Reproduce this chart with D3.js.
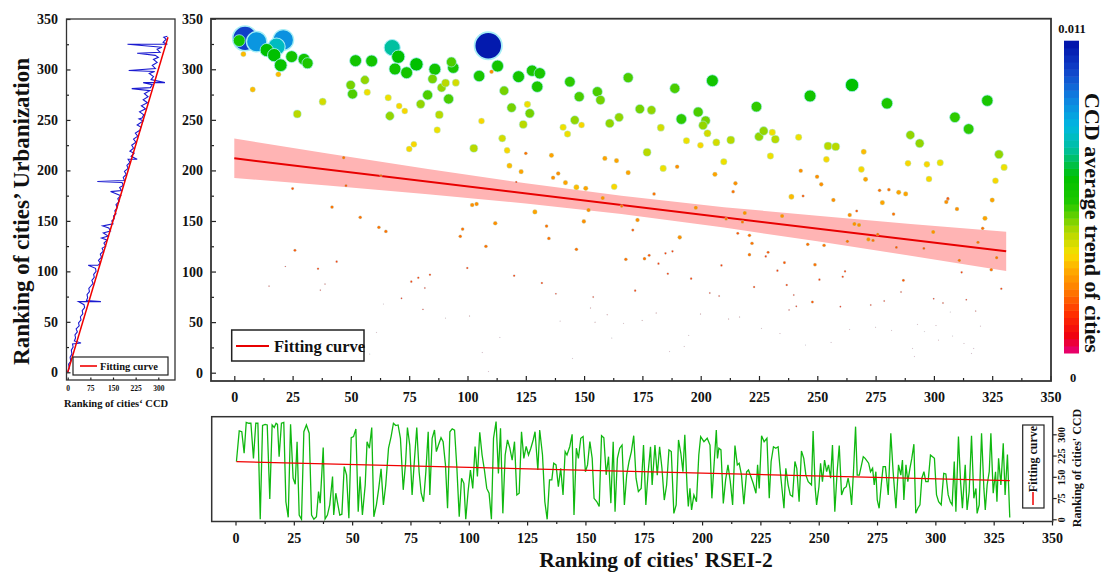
<!DOCTYPE html>
<html>
<head>
<meta charset="utf-8">
<script src="https://cdn.jsdelivr.net/npm/d3@7"></script>
<style>
  body { margin: 0; background: #fff; }
  text { font-family: "Liberation Serif", "Times New Roman", serif; font-weight: bold; fill: #111; }
</style>
</head>
<body>
<div id="chart"></div>
<script>
(function() {
  'use strict';

  // main scatter: [RSEI-2 rank, Urbanization rank, CCD average trend (x1e-3)]
  var cityPoints = [
    [4.6,330.6,10.0],[9.6,327.3,8.6],[21,329,8.7],[18.1,322.3,7.6],[2.1,328.3,5.7],[13.9,319,6.2],
    [17.1,314,6.2],[19.9,304,6.0],[24.6,312.5,5.7],[29.9,309.8,5.7],[31.4,306,5.4],[3.9,315,3.1],
    [18.9,295,3.1],[7.9,280,3.1],[37.9,268,3.9],[27,255.8,4.2],[52,308.5,5.7],[58.9,308.2,5.7],
    [49.9,284.4,4.7],[50.7,275.5,5.0],[56,289.4,4.5],[57,277.2,3.6],[67.7,321.4,7.2],[70.3,312.4,6.2],
    [68.9,300.3,5.7],[73.9,296.6,5.7],[78.1,304.9,6.2],[66,271.9,3.6],[66.7,253.8,4.5],[70.7,263.7,3.4],
    [73.1,258.7,3.4],[79.9,265.6,4.5],[82.9,274.6,5.0],[86,300,5.7],[85,290.4,4.7],[88.9,281.8,4.5],
    [90.6,286.4,4.2],[87.9,255,4.2],[91.9,270.6,5.0],[93.1,307.2,5.0],[93.9,301.6,5.5],[95,286.7,3.9],
    [87,240,3.6],[75,221.2,3.4],[77,225.8,3.4],[46.9,212.6,2.1],[47.9,184.9,1.8],[25,182,1.8],
    [62.9,194.8,1.8],[108.9,323.3,10.8],[112.9,303.2,5.7],[105,293.3,5.5],[110.3,297.6,2.5],[106,248.8,3.4],
    [102.7,221.8,4.2],[114.9,231.7,3.9],[117,219.8,3.4],[118,204.7,3.1],[123,198.7,2.8],[120.9,188.5,1.5],
    [125,216.9,2.1],[115.7,278.8,4.7],[118.9,262,4.7],[123.9,245.5,4.2],[126.7,256.4,4.7],[125.7,265.3,3.6],
    [121.9,292.7,5.7],[127.7,298.6,5.5],[131,296,5.5],[129.9,282.8,5.5],[143.9,287.7,5.2],[147.9,272.9,5.0],
    [146,249.8,4.5],[141,242.6,3.6],[142.9,236,3.6],[148.9,244.9,3.4],[136,214.9,2.8],[138.9,197,2.5],
    [136.7,192.8,2.5],[142,187.9,2.8],[155.7,277.8,5.0],[157,269.6,4.7],[161,246.5,4.5],[165,252.5,4.5],
    [168.9,291.7,5.0],[158.9,211.9,2.8],[163.9,209.6,2.8],[162.9,183.9,3.4],[150.7,182.3,2.8],[168.9,197.8,2.8],
    [158,172.7,2.5],[188.9,281.1,5.0],[205,288.7,5.7],[173.9,260.7,4.7],[178.9,259.7,4.5],[182.9,242.3,3.9],
    [191.7,250.8,5.2],[198.9,257.7,5.0],[202.1,249.2,4.7],[201,244.5,4.5],[202.9,236.7,3.9],[193.9,229.4,3.6],
    [199.9,224.8,3.4],[206.7,227.7,3.9],[212.9,230,4.2],[177,217.9,4.2],[183.9,202,3.6],[189.9,203.7,2.5],
    [209.9,208.6,3.6],[206.1,196.1,2.8],[214.9,187.2,2.5],[213.9,179,2.1],[180,176.7,2.1],[223.9,263,5.2],
    [225,233.4,4.5],[227,239,4.5],[230.7,237.6,3.6],[232,230.7,4.2],[229.9,214.2,3.6],[242,232.7,3.6],
    [246.9,273.6,5.7],[242.9,199.7,2.5],[243.9,174.7,1.8],[238.9,174,3.1],[249.9,193.8,2.5],[251.7,186.2,2.5],
    [254.6,224.1,4.2],[257.9,223.5,4.2],[253.9,210.9,3.4],[264.9,284.4,6.2],[269.9,218.5,3.1],[268.9,201,3.4],
    [270.7,191.2,2.8],[279.9,266.3,5.5],[276.7,180.3,2.1],[280.7,181,2.1],[284.9,178.3,2.8],[287.9,176.7,2.8],
    [289.9,235,4.5],[293.9,226.8,4.5],[288.9,207,3.4],[297,206,3.4],[302.7,207.6,3.6],[297.9,191.5,3.4],
    [306,171.4,1.8],[309,252.5,5.2],[314.9,241,5.2],[322.9,269,5.5],[327.9,215.9,4.5],[330.1,203,3.6],
    [326.4,189.8,3.4],[325,170.7,2.8],
    [26,121,1.8],[14.9,85.7,1.0],[21.9,105,1.0],[41.9,163.8,2.1],[43.9,109.8,1.5],[35.9,102.8,1.5],
    [38.9,87.7,1.0],[36.9,81.7,1.0],[54,153.6,2.1],[62,143.7,2.1],[65,139.7,2.1],[63.9,67.9,0.6],
    [60.9,39.9,0.6],[71.7,73.5,1.2],[75.9,90,1.5],[78.9,93.9,1.5],[81.7,83.7,1.2],[83.9,96.9,1.5],
    [80.9,62.6,1.0],[90.6,54,0.6],[96.9,134.8,2.1],[97.9,142,2.1],[99.9,103.5,1.5],[100.9,56,0.8],
    [102,165.8,2.5],[103.9,166.8,2.5],[107.9,124.9,2.1],[111.9,147.7,2.5],[106.3,20,0.5],[120,95.9,1.5],
    [131.9,88.7,1.5],[128.9,158.9,2.8],[133.9,145,2.1],[134.9,132.8,2.1],[137.9,78.1,1.2],[139.7,51,0.6],
    [146.7,122,2.1],[149.9,149.6,2.5],[151.9,160.8,2.5],[152.7,64,0.8],[153.9,74.8,1.2],[154.7,50,0.8],
    [159.9,57.3,0.8],[161.9,34.3,0.6],[146.7,183.3,3.1],[166.1,164.8,2.1],[167.9,112.1,2.1],[166.9,48.8,0.6],
    [32.9,38.2,0.5],[52.9,33,0.5],[58.1,18.5,0.5],[113.9,35,0.5],[145,14.2,0.5],[109,1,0.5],
    [172.9,151,2.5],[170.9,141,1.8],[175.9,112.7,2.1],[177.9,116,1.8],[181.9,107.8,1.5],[184.9,118,1.5],
    [187.9,120,1.5],[185.9,97.9,1.5],[191,133.8,2.5],[171.9,81.1,1.5],[180.9,59,0.8],[174.9,51.7,0.8],
    [195.9,93,1.5],[199.9,58,0.8],[194.9,37,0.6],[192.9,26,0.6],[186.7,20.8,0.5],[197.9,163.1,2.5],
    [203.9,78.8,1.2],[207.9,75.8,1.2],[208.9,106.1,1.5],[210.9,152,2.1],[212,53.1,0.8],[216.7,55,0.8],
    [215.9,137.8,1.8],[217.9,149,2.1],[218.9,157.9,2.5],[220.9,135.8,2.1],[222,127.9,2.1],[220.9,116.7,2.1],
    [222.9,84.7,1.5],[226,43.8,0.6],[227.9,115,1.5],[228.9,119,1.8],[232.9,100.9,1.5],[234.9,154.9,2.5],
    [235.9,108.8,1.8],[234,38.6,0.6],[236.9,86.7,1.5],[239.9,76.8,1.2],[237.9,62,1.0],[241,65.6,1.2],
    [244.9,27.4,0.5],[245.9,126.9,2.1],[247.9,69.9,1.8],[249,106.8,2.1],[250.9,92,1.5],[252.9,125.9,2.1],
    [255.9,30,0.5],[256.9,170.7,2.5],[259.9,65.3,1.2],[260.9,94.9,1.5],[261.9,100.2,1.5],[262.9,129.9,2.1],
    [263.9,42.8,0.6],[263.9,155.9,2.5],[266.9,159.9,1.8],[265.9,147,2.5],[267.9,146,2.5],[271.9,131.8,2.5],
    [273.9,130.8,2.1],[275.9,136.8,2.1],[272.9,66.9,1.2],[275,45,0.6],[277.9,168.1,2.8],[278.7,70.9,1.2],
    [281.9,41.9,0.6],[282.7,156.9,2.1],[283.9,123.9,1.8],[285.9,79.8,1.2],[286.9,91.3,1.8],[290.9,24,0.5],
    [291.6,15.8,0.5],[292.9,47.8,0.6],[295.9,40.5,0.6],[295.7,122.9,1.8],[299.7,139.1,2.5],[299.9,73.2,1.2],
    [300.9,46.5,0.6],[302,32.3,0.6],[303.9,68.9,1.2],[305.3,168.8,2.5],[306,172.4,1.8],[307,60,0.6],
    [308,36.3,0.6],[309.9,161.8,2.5],[310.9,111.1,2.1],[311.9,99.2,1.5],[312.9,29,0.6],[313.9,72.2,1.2],
    [316.1,19.1,0.5],[317.1,24,0.5],[317.9,61,1.0],[319.9,46.1,0.6],[318.9,128.9,2.1],[320.9,142.7,2.1],
    [321.9,152.6,2.8],[324.6,101.8,2.1],[326.9,113.7,2.1],[328.9,83,1.5]
  ];

  // main fitting curve and its confidence band
  var fitX = [0, 331];
  var fitY = [212, 120];
  var bandX = [0, 40, 83, 125, 166, 210, 250, 290, 331];
  var bandLo = [192.5, 185, 176.4, 167.3, 156.9, 143.5, 129.9, 115.7, 100.6];
  var bandHi = [231.5, 216.8, 201.4, 187.3, 174.9, 163.7, 155.1, 147.1, 139.4];

  // left panel: [CCD rank, Urbanization rank]
  var urbanVsCcd = [
    [0,0],[5,4],[3,8],[10,11],[8,15],[14,18],[12,22],[18,25],[16,28],[44,29],[22,31],[26,34],[24,37],
    [32,40],[28,43],[38,46],[36,49],[44,52],[42,55],[50,58],[48,61],[56,64],[54,67],[36,70],[110,70],
    [62,71],[66,74],[64,77],[72,80],[70,83],[78,86],[84,88],[80,91],[88,94],[86,97],[94,100],[92,103],
    [68,106],[100,106],[108,108],[102,111],[112,114],[108,117],[118,120],[114,123],[126,125],[120,128],
    [130,131],[112,133],[134,135],[118,138],[142,140],[136,143],[116,145],[150,147],[146,150],[154,152],
    [152,155],[160,157],[156,160],[164,163],[160,166],[170,169],[166,172],[176,175],[142,179],[178,180],
    [172,183],[184,185],[180,188],[98,189],[188,190],[184,193],[194,196],[188,199],[200,202],[196,205],
    [206,208],[200,211],[230,211],[210,214],[220,217],[206,219],[218,222],[212,225],[226,228],[218,231],
    [232,234],[224,237],[240,240],[242,243],[230,245],[250,249],[236,251],[246,252],[252,255],[238,258],
    [258,261],[244,264],[264,267],[250,270],[266,273],[254,276],[272,279],[212,281],[274,282],[280,285],
    [250,287],[322,287],[276,290],[284,293],[270,296],[288,298],[202,299],[290,301],[280,304],[296,307],
    [284,310],[300,312],[290,314],[230,316],[306,317],[296,320],[312,322],[198,325],[330,325],[316,327],
    [326,330],[318,332],[330,333]
  ];
  var leftFitX = [0, 332];
  var leftFitY = [0, 332];

  // bottom panel: [RSEI-2 rank, CCD rank]
  var ccdVsRsei = [
    [0.4,204],[1.6,312],[2.7,309],[3.7,233],[4.6,342],[5.7,339],[6.6,339],[7.7,215],[8.7,339],[9.6,339],
    [10.6,0],[11.6,331],[12.7,335],[13.6,333],[14.7,72],[15.7,333],[16.6,324],[17.4,339],[18,335],[18.7,221],
    [19.7,339],[20.7,342],[21.6,62],[22.6,7],[23.6,335],[24.7,145],[25.6,124],[26.4,274],[27.3,15],[28.3,0],
    [29.3,309],[30.4,333],[31.6,304],[32.6,15],[33.6,0],[34.7,9],[35.6,98],[36.3,57],[37.6,253],[38.4,1],
    [39.4,15],[40.4,51],[41.6,151],[42.1,15],[43,92],[43.9,51],[44.7,15],[45.6,18],[46.6,186],[47.6,157],
    [48.6,4],[49.6,288],[50.6,292],[51.6,319],[52.6,27],[53.4,151],[54.4,15],[55.6,121],[56.4,274],[57.4,251],
    [58.4,324],[59.3,9],[60.4,51],[61.4,109],[62.4,178],[63.4,51],[64.4,121],[65.6,251],[66.7,292],[67.7,339],
    [68.7,331],[69.7,333],[70.7,286],[71.9,104],[72.9,198],[73.7,324],[74.7,262],[75.7,86],[76.7,209],[77.7,324],
    [78.7,168],[79.6,92],[80.6,62],[81.6,168],[82.6,309],[83.3,86],[84.3,286],[85.3,315],[86.1,239],[87,262],
    [88.1,288],[89,274],[90,192],[90.9,39],[91.9,309],[92.9,319],[93.9,315],[94.9,180],[95.9,9],[96.9,145],
    [97.9,127],[98.7,0],[99.7,98],[100.7,174],[101.7,109],[102.7,257],[103.7,151],[104.7,307],[105.7,227],[106.7,174],
    [107.7,109],[108.7,92],[109.7,0],[110.6,286],[111.7,345],[112.7,162],[113.6,321],[114.6,21],[115.6,227],[116.6,280],
    [117.6,251],[118.6,209],[119.6,274],[120.6,86],[121.6,92],[122.6,309],[123.6,215],[124.6,257],[125.6,227],[126.6,251],
    [127.6,280],[128.4,309],[129.6,174],[130.4,315],[131.6,227],[132.6,62],[133.6,0],[134.6,139],[135.6,139],[136.4,198],
    [137.4,192],[138.4,115],[139.4,180],[140.4,86],[141.3,239],[142.1,227],[143.3,257],[144.3,300],[145.1,15],[146.1,251],
    [147,215],[148,286],[149,292],[150,168],[150.9,192],[151.9,274],[152.9,215],[153.7,74],[154.9,62],[155.9,45],
    [156.9,295],[157.9,288],[158.9,157],[159.9,221],[160.9,57],[161.9,274],[162.7,27],[163.7,215],[164.7,251],[165.7,262],
    [166.7,51],[167.7,157],[168.7,204],[169.7,239],[170.7,295],[171.7,145],[172.7,98],
    [173.9,109],[174.9,262],[175.9,51],[176.9,168],[177.9,256],[178.6,121],[179.8,262],[180.8,156],[181.8,256],[182.8,180],
    [183.8,68],[184.8,121],[185.8,245],[186.8,239],[187.9,21],[188.9,51],[189.9,280],[190.9,233],[191.8,168],[192.6,298],
    [193.6,109],[194.1,45],[194.8,109],[195.5,33],[196.5,86],[197.6,62],[198.6,227],[199.4,292],[200.8,274],[202.2,286],
    [203.4,262],[204.2,74],[206.1,315],[206.6,215],[207.2,251],[208.1,245],[209.1,56],[210.1,139],[211.1,192],[212.1,133],
    [213.1,51],[214.1,260],[215.1,192],[215.9,198],[216.9,156],[217.9,53],[219.1,168],[219.9,174],[220.9,151],[221.9,127],
    [223.1,92],[223.8,192],[224.5,109],[225.5,295],[226.6,274],[227.8,286],[228.8,74],[229.6,204],[230.6,256],[231.6,251],
    [232.6,256],[233.8,145],[235.1,39],[235.9,180],[236.9,121],[237.8,86],[238.8,80],[239.8,204],[240.6,180],[241.6,62],
    [242.6,241],[243.6,215],[244.5,156],[245.5,133],[246.9,121],[247.6,312],[248.5,109],[249.1,51],[250.1,115],[250.8,198],
    [251.6,133],[252.5,209],[253.4,168],[254.2,192],[255.1,145],[255.9,262],[256.9,27],[257.9,168],[258.8,260],[259.8,86],
    [260.8,109],[261.8,115],[262.6,145],[263.4,109],[264.1,51],[264.9,168],[265.8,327],[266.5,156],[267.4,156],[268.2,186],
    [269.1,221],[269.9,215],[271.4,198],[272.2,168],[273.1,180],[273.8,121],[274.5,168],[275.1,68],[275.9,39],[276.8,121],
    [277.6,186],[278.6,186],[279.8,86],[280.9,304],[281.9,168],[283.1,39],[284.2,192],[285.2,156],[285.9,209],[286.5,68],
    [287.4,192],[288.2,133],[289.1,180],[289.9,215],[290.8,265],[291.6,21],[292.5,39],[293.4,51],[294.2,145],[295.1,168],
    [295.9,133],[296.9,133],[297.9,227],[298.8,221],[299.6,215],[300.5,86],[301.4,62],[302.5,51],[303.6,162],[304.5,160],
    [305.5,86],[306.4,62],[307.2,51],[308.1,204],[308.8,27],[309.9,292],[310.8,133],[311.6,39],[312.8,192],[313.6,33],
    [314.5,98],[315.5,295],[316.5,74],[317.4,109],[317.9,21],[318.8,51],[319.8,304],[320.8,109],[321.4,33],[322.2,121],
    [323.1,168],[323.8,304],[324.8,92],[325.8,168],[326.4,62],[327.1,215],[328.1,121],[329.1,268],[329.9,86],[330.9,229],
    [331.9,6]
  ];
  var botFitX = [0.4, 331.9];
  var botFitY = [203.5, 136.5];

  // colour bar
  var trendMax = 11;   // 0.011
  var trendStops = [0, 0.6, 1.4, 2.2, 3.0, 3.5, 4.3, 5.3, 6.2, 7.2, 8.0, 9.0, 10.0, 11];
  var trendColors = ['#e6007e', '#f00010', '#ff3000', '#ff7a00', '#ffb000', '#f8e000', '#b0d800',
    '#20c800', '#00c000', '#00c0a0', '#00b8e0', '#1080e0', '#1040c8', '#0010a8'];

  var mainTicks = d3.range(0, 351, 25);
  var mainMinorX = d3.range(12.5, 350, 25);
  var mainYTicks = d3.range(0, 351, 50);
  var mainMinorY = d3.range(25, 350, 50);
  var leftXTicks = [0, 75, 150, 225, 300];
  var botYTicks = [0, 75, 150, 225, 300];

  var svgW = 1105, svgH = 573;

  var svg = d3.select('#chart').append('svg')
    .attr('width', svgW)
    .attr('height', svgH);

  var color = d3.scaleLinear().domain(trendStops).range(trendColors);
  var radius = d3.scalePow().exponent(1.3).domain([0, trendMax]).range([0, 14]);

  function styleAxis(g, size) {
    g.select('.domain').remove();
    g.selectAll('line').attr('stroke', '#222').attr('stroke-width', 1.2);
    g.selectAll('text').style('font-size', size + 'px');
  }

  // ---------------- main chart ----------------
  var x = d3.scaleLinear().domain([0, 350]).range([234.3, 1050.5]);
  var y = d3.scaleLinear().domain([0, 350]).range([372.7, 18.7]);

  var band = bandX.map(function(d, i) { return [d, bandLo[i], bandHi[i]]; });
  svg.append('path')
    .attr('d', d3.area()
      .x(function(d) { return x(d[0]); })
      .y0(function(d) { return y(d[1]); })
      .y1(function(d) { return y(d[2]); })(band))
    .attr('fill', '#ffb4b4');

  svg.append('line')
    .attr('x1', x(fitX[0])).attr('y1', y(fitY[0]))
    .attr('x2', x(fitX[1])).attr('y2', y(fitY[1]))
    .attr('stroke', '#e80000')
    .attr('stroke-width', 2);

  var sorted = cityPoints.slice().sort(function(a, b) { return b[2] - a[2]; });
  svg.append('g').selectAll('circle')
    .data(sorted)
    .enter()
    .append('circle')
    .attr('cx', function(d) { return x(d[0]); })
    .attr('cy', function(d) { return y(d[1]); })
    .attr('r', function(d) { return Math.max(0.35, radius(d[2])); })
    .attr('fill', function(d) { return color(d[2]); })
    .attr('stroke', '#a6eef6')
    .attr('stroke-width', function(d) { return Math.max(0.3, radius(d[2]) * 0.13); });

  svg.append('g')
    .attr('transform', 'translate(211,0)')
    .call(d3.axisLeft(y).tickValues(mainYTicks).tickSize(-5).tickPadding(8))
    .call(styleAxis, 14);
  svg.append('g')
    .attr('transform', 'translate(211,0)')
    .call(d3.axisLeft(y).tickValues(mainMinorY).tickSize(-3).tickFormat(''))
    .call(styleAxis, 14);
  svg.append('g')
    .attr('transform', 'translate(0,381)')
    .call(d3.axisBottom(x).tickValues(mainTicks).tickSize(-5).tickPadding(11))
    .call(styleAxis, 14);
  svg.append('g')
    .attr('transform', 'translate(0,381)')
    .call(d3.axisBottom(x).tickValues(mainMinorX).tickSize(-3).tickFormat(''))
    .call(styleAxis, 14);

  svg.append('rect')
    .attr('x', 211).attr('y', 18.7)
    .attr('width', 1051 - 211).attr('height', 381 - 18.7)
    .attr('fill', 'none').attr('stroke', '#333').attr('stroke-width', 1.8);

  var lg = svg.append('g');
  lg.append('rect').attr('x', 231.7).attr('y', 330).attr('width', 132.3).attr('height', 31)
    .attr('fill', '#fff').attr('stroke', '#222').attr('stroke-width', 1.5);
  lg.append('line').attr('x1', 236).attr('x2', 269).attr('y1', 346).attr('y2', 346)
    .attr('stroke', '#e80000').attr('stroke-width', 2.2);
  lg.append('text').attr('x', 274).attr('y', 352).style('font-size', '16.5px').text('Fitting curve');

  svg.append('text')
    .attr('transform', 'translate(29,211.5) rotate(-90)')
    .attr('text-anchor', 'middle')
    .style('font-size', '23px')
    .text('Ranking of cities\u2019 Urbanization');

  svg.append('text')
    .attr('x', 656).attr('y', 566.5)
    .attr('text-anchor', 'middle')
    .style('font-size', '21.5px')
    .text('Ranking of cities\' RSEI-2');

  // ---------------- colour bar ----------------
  var cb = d3.scaleLinear().domain([0, trendMax]).range([353, 40.7]);
  var steps = d3.range(44);
  svg.append('g').selectAll('rect')
    .data(steps)
    .enter()
    .append('rect')
    .attr('x', 1064)
    .attr('width', 15)
    .attr('y', function(d) { return cb((d + 1) / 44 * trendMax); })
    .attr('height', function(d) { return cb(d / 44 * trendMax) - cb((d + 1) / 44 * trendMax) + 0.5; })
    .attr('fill', function(d) { return color((d + 0.5) / 44 * trendMax); });

  svg.append('text').attr('x', 1072).attr('y', 33).attr('text-anchor', 'middle')
    .style('font-size', '12.5px').text('0.011');
  svg.append('text').attr('x', 1073).attr('y', 382).attr('text-anchor', 'middle')
    .style('font-size', '12.5px').text('0');
  svg.append('text')
    .attr('transform', 'translate(1085,223) rotate(90)')
    .attr('text-anchor', 'middle')
    .style('font-size', '22px')
    .text('CCD average trend of cities');

  // ---------------- left panel ----------------
  var lx = d3.scaleLinear().domain([0, 300]).range([67.7, 158.3]);
  var ly = d3.scaleLinear().domain([0, 350]).range([372.3, 19]);

  svg.append('path')
    .datum(urbanVsCcd)
    .attr('d', d3.line()
      .x(function(d) { return lx(d[0]); })
      .y(function(d) { return ly(d[1]); }))
    .attr('fill', 'none')
    .attr('stroke', '#1a1ad0')
    .attr('stroke-width', 1.1);

  svg.append('line')
    .attr('x1', lx(leftFitX[0])).attr('y1', ly(leftFitY[0]))
    .attr('x2', lx(leftFitX[1])).attr('y2', ly(leftFitY[1]))
    .attr('stroke', '#f00000')
    .attr('stroke-width', 1.5);

  svg.append('g')
    .attr('transform', 'translate(66.5,0)')
    .call(d3.axisLeft(ly).tickValues(mainYTicks).tickSize(-4).tickPadding(8.5))
    .call(styleAxis, 14);
  svg.append('g')
    .attr('transform', 'translate(66.5,0)')
    .call(d3.axisLeft(ly).tickValues(mainMinorY).tickSize(-2.5).tickFormat(''))
    .call(styleAxis, 14);
  svg.append('g')
    .attr('transform', 'translate(0,380)')
    .call(d3.axisBottom(lx).tickValues(leftXTicks).tickSize(-2.5).tickPadding(6))
    .call(styleAxis, 7.5);

  svg.append('rect')
    .attr('x', 66.5).attr('y', 19)
    .attr('width', 175 - 66.5).attr('height', 380 - 19)
    .attr('fill', 'none').attr('stroke', '#333').attr('stroke-width', 1.3);

  var ll = svg.append('g');
  ll.append('rect').attr('x', 73).attr('y', 357).attr('width', 95).attr('height', 18)
    .attr('fill', '#fff').attr('stroke', '#222').attr('stroke-width', 1.2);
  ll.append('line').attr('x1', 80).attr('x2', 97).attr('y1', 366).attr('y2', 366)
    .attr('stroke', '#f00000').attr('stroke-width', 1.6);
  ll.append('text').attr('x', 100).attr('y', 370).style('font-size', '10.5px').text('Fitting curve');

  svg.append('text')
    .attr('x', 116).attr('y', 407)
    .attr('text-anchor', 'middle')
    .style('font-size', '10.5px')
    .text('Ranking of cities\u2018 CCD');

  // ---------------- bottom panel ----------------
  var bx = d3.scaleLinear().domain([0, 350]).range([235.5, 1052]);
  var by = d3.scaleLinear().domain([0, 300]).range([519.3, 434.3]);

  svg.append('path')
    .datum(ccdVsRsei)
    .attr('d', d3.line()
      .x(function(d) { return bx(d[0]); })
      .y(function(d) { return by(d[1]); }))
    .attr('fill', 'none')
    .attr('stroke', '#10b810')
    .attr('stroke-width', 1.3);

  svg.append('line')
    .attr('x1', bx(botFitX[0])).attr('y1', by(botFitY[0]))
    .attr('x2', bx(botFitX[1])).attr('y2', by(botFitY[1]))
    .attr('stroke', '#f00000')
    .attr('stroke-width', 1.3);

  svg.append('g')
    .attr('transform', 'translate(0,521.5)')
    .call(d3.axisBottom(bx).tickValues(mainTicks).tickSize(4).tickPadding(8))
    .call(styleAxis, 14);
  svg.append('g')
    .attr('transform', 'translate(0,521.5)')
    .call(d3.axisBottom(bx).tickValues(mainMinorX).tickSize(2.5).tickFormat(''))
    .call(styleAxis, 14);

  var ra = svg.append('g')
    .attr('transform', 'translate(1052.7,0)')
    .call(d3.axisRight(by).tickValues(botYTicks).tickSize(4))
    .call(styleAxis, 10.5);
  ra.selectAll('text')
    .attr('x', null).attr('dy', null)
    .attr('text-anchor', 'middle')
    .attr('transform', 'translate(12.5,0) rotate(-90)');

  svg.append('rect')
    .attr('x', 211.7).attr('y', 416.7)
    .attr('width', 1052.7 - 211.7).attr('height', 521.5 - 416.7)
    .attr('fill', 'none').attr('stroke', '#333').attr('stroke-width', 1.5);

  var bl = svg.append('g');
  bl.append('rect').attr('x', 1022.7).attr('y', 425).attr('width', 21.3).attr('height', 83)
    .attr('fill', '#fff').attr('stroke', '#222').attr('stroke-width', 1.2);
  bl.append('line').attr('x1', 1033).attr('x2', 1033).attr('y1', 492).attr('y2', 505)
    .attr('stroke', '#f00000').attr('stroke-width', 1.5);
  bl.append('text')
    .attr('transform', 'translate(1037,459) rotate(-90)')
    .attr('text-anchor', 'middle')
    .style('font-size', '12px')
    .text('Fitting curve');

  svg.append('text')
    .attr('transform', 'translate(1081,468) rotate(-90)')
    .attr('text-anchor', 'middle')
    .style('font-size', '12px')
    .text('Ranking of cities\' CCD');

}());
</script>
</body>
</html>
